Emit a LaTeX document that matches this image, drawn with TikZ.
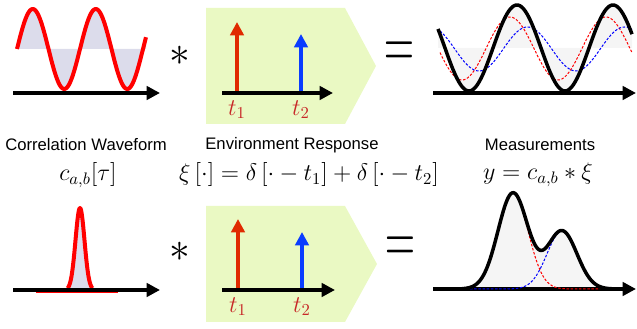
\documentclass[tikz,border=0pt]{standalone}
\usepackage{fontspec}
\setsansfont{Liberation Sans}
\usepackage{amsmath}
\usepackage{tikz}
\usetikzlibrary{arrows.meta}
\definecolor{Wave}{HTML}{FF0000}
\definecolor{Lilac}{HTML}{DCDCEB}
\definecolor{Lime}{HTML}{EAF9C3}
\definecolor{StemRed}{HTML}{E02A00}
\definecolor{StemBlue}{HTML}{0A3CFF}
\definecolor{TickRed}{HTML}{C82828}
\definecolor{Haze}{HTML}{F5F5F5}

\begin{document}
\begin{tikzpicture}[
  x=0.6pt, y=-0.6pt,
  font=\sffamily,
  axis/.style={-{Triangle[length=8pt, width=8pt]}, line width=2.2pt, draw=black},
  stem/.style={-{Triangle[length=8pt, width=8pt]}, line width=2pt},
  tick/.style={text=TickRed, font=\Large, inner sep=0pt, anchor=north},
  caption/.style={font=\sffamily, inner sep=0pt},
  formula/.style={font=\Large, inner sep=0pt},
  panel/.style={fill=Lime},
  conv/.style={font=\fontsize{28}{28}\selectfont, inner sep=0pt},
  equal/.style={font=\fontsize{26}{26}\selectfont, inner sep=0pt},
  wave/.style={draw=Wave, line width=2.4pt, line join=round},
  meas/.style={draw=black, line width=2.1pt, line join=round},
  part/.style={line width=0.6pt, dash pattern=on 1.5pt off 1pt}
]
\useasboundingbox (0,0) rectangle (637,329);

% correlation waveform, top
\fill[Lilac] plot[domain=17:146, samples=120] (\x,{49-40*sin((\x-17)*5.714)}) -- (146,49) -- cycle;
\draw[wave] plot[domain=17:146, samples=120] (\x,{49-40*sin((\x-17)*5.714)});
\draw[axis] (13,93) -- (160,93);

% correlation waveform, bottom
\fill[Lilac] plot[domain=67.5:92.5, samples=60] (\x,{290-82*exp(-(\x-80)*(\x-80)/40.5)}) -- cycle;
\draw[Wave, line width=0.7pt] (36,292.6) -- (118,292.6);
\draw[wave] plot[domain=67.5:92.5, samples=60] (\x,{290-82*exp(-(\x-80)*(\x-80)/40.5)});
\draw[axis] (13,290) -- (160,290);

% convolution signs
\node[conv] (ast1) at (180,56) {$\ast$};
\node[conv] (ast2) at (180,252) {$\ast$};

% environment response panels
\fill[panel] (206,8) -- (345,8) -- (376,66) -- (345,124) -- (206,124) -- cycle;
\fill[panel] (206,206) -- (345,206) -- (377,264) -- (345,322) -- (206,322) -- cycle;

\draw[stem, StemRed] (237,93) -- (237,22);
\draw[stem, StemBlue] (301,93) -- (301,34);
\draw[axis] (222,93) -- (333,93);
\node[tick] (t1a) at (237,100) {$t_1$};
\node[tick] (t2a) at (301,100) {$t_2$};

\draw[stem, StemRed] (238,290) -- (238,219);
\draw[stem, StemBlue] (302,290) -- (302,232);
\draw[axis] (222,290) -- (335,290);
\node[tick] (t1b) at (238,297) {$t_1$};
\node[tick] (t2b) at (302,297) {$t_2$};

% equals signs
\node[equal] (eq1) at (399,55) {\scalebox{1}[1.8]{$=$}};
\node[equal] (eq2) at (400,250) {\scalebox{1}[1.8]{$=$}};

% measurements, top
\fill[Haze] (438,48) -- plot[domain=438:632, samples=150] (\x,{48+43*cos((\x-469)*3.75)}) -- (632,48) -- cycle;
\draw[part, Wave] plot[domain=440:632, samples=150] (\x,{48.5+31.5*cos((\x-462)*3.75)});
\draw[part, blue] plot[domain=440:632, samples=150] (\x,{49+22*cos((\x-479)*3.711)});
\draw[meas] plot[domain=438:632, samples=150] (\x,{48+43*cos((\x-469)*3.75)});
\draw[axis] (433,93) -- (636,93);

% measurements, bottom
\fill[Haze] plot[domain=462:612, samples=150] (\x,{289-96*exp(-(\x-513)*(\x-513)/450)-58*exp(-(\x-562)*(\x-562)/450)}) -- cycle;
\draw[axis] (433,289) -- (636,289);
\draw[part, Wave] plot[domain=470:600, samples=100] (\x,{289-96*exp(-(\x-513)*(\x-513)/450)});
\draw[part, blue] plot[domain=470:600, samples=100] (\x,{289-58*exp(-(\x-562)*(\x-562)/450)});
\draw[meas] plot[domain=462:612, samples=150] (\x,{289-96*exp(-(\x-513)*(\x-513)/450)-58*exp(-(\x-562)*(\x-562)/450)});

% captions
\node[caption] (capc) at (86,145) {Correlation Waveform};
\node[caption] (capx) at (292,145) {Environment Response};
\node[caption] (capy) at (540,145) {Measurements};

\node[formula] (fc) at (88,175) {$c_{a,b}[\tau]$};
\node[formula] (fx) at (309,175) {$\xi\left[\cdot\right] = \delta\left[\cdot - t_1\right] + \delta\left[\cdot - t_2\right]$};
\node[formula] (fy) at (538,175) {$y = c_{a,b} \ast \xi$};
\end{tikzpicture}
\end{document}
